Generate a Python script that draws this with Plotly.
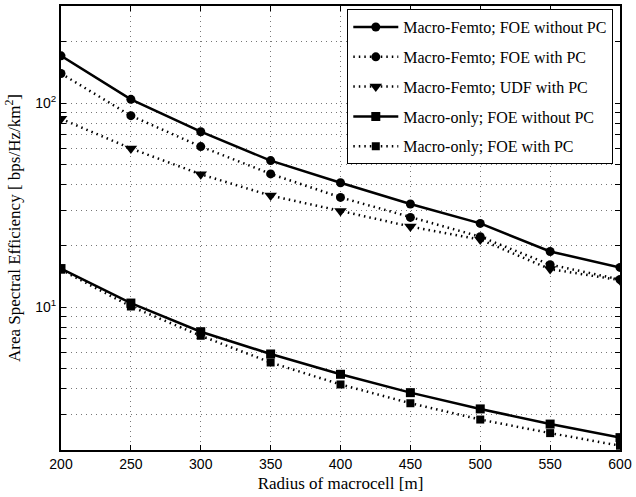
import plotly.graph_objects as go

radius = [200, 250, 300, 350, 400, 450, 500, 550, 600]
mf_foe_nopc = [171, 104.6, 72.6, 52.4, 40.8, 32.1, 25.8, 18.8, 15.7]
mf_foe_pc = [140, 87, 61.4, 45.1, 34.6, 27.6, 22.2, 16.2, 13.7]
mf_udf_pc = [84, 60.1, 44.9, 35.3, 29.7, 24.9, 21.5, 15.4, 13.6]
mo_foe_nopc = [15.5, 10.5, 7.6, 5.91, 4.70, 3.82, 3.18, 2.68, 2.30]
mo_foe_pc = [15.3, 10.1, 7.26, 5.37, 4.19, 3.39, 2.82, 2.42, 2.10]

names = ["Macro-Femto; FOE without PC", "Macro-Femto; FOE with PC",
         "Macro-Femto; UDF with PC", "Macro-only; FOE without PC",
         "Macro-only; FOE with PC"]
series = [mf_foe_nopc, mf_foe_pc, mf_udf_pc, mo_foe_nopc, mo_foe_pc]
dashes = ["solid", "1.5px,4px", "1.5px,4px", "solid", "1.5px,4px"]
symbols = ["circle", "circle", "triangle-down", "square", "square"]
msizes = [9, 9, 11, 9, 8]

fig = go.Figure()
for i, (nm, ys) in enumerate(zip(names, series)):
    fig.add_trace(go.Scatter(
        x=radius, y=ys, name=nm, mode="lines+markers",
        legendgroup=str(i),
        line=dict(color="black", width=2.5, dash=dashes[i]),
        marker=dict(symbol=symbols[i], size=msizes[i], color="black"),
    ))

grid_vals = [2, 3, 4, 5, 6, 7, 8, 9, 10, 20, 30, 40, 50, 60, 70, 80, 90, 100, 200, 300]
grid_text = ["10<sup>1</sup>" if v == 10 else ("10<sup>2</sup>" if v == 100 else "") for v in grid_vals]

serif = "Liberation Serif, Times New Roman"

fig.update_layout(
    width=636, height=497,
    margin=dict(l=61, r=12, t=4, b=47),
    paper_bgcolor="white", plot_bgcolor="white",
    font=dict(family="Liberation Sans, Arial", size=14, color="black"),
    showlegend=True,
    legend=dict(
        x=0.988, y=0.993, xanchor="right", yanchor="top",
        bgcolor="white", bordercolor="black", borderwidth=1,
        font=dict(family=serif, size=16, color="black"),
        tracegroupgap=6, itemwidth=45,
    ),
    xaxis=dict(
        range=[200, 600], tickvals=radius,
        showgrid=True, gridcolor="#777", griddash="1px,4px", gridwidth=1,
        ticks="inside", ticklen=5, tickcolor="black",
        showline=True, linecolor="black", linewidth=2, mirror="ticks",
        zeroline=False,
        title=dict(text="Radius of macrocell [m]", standoff=6,
                   font=dict(family=serif, size=17)),
    ),
    yaxis=dict(
        type="log", range=[0.30103, 2.4771],
        tickvals=grid_vals, ticktext=grid_text,
        showgrid=True, gridcolor="#777", griddash="1px,4px", gridwidth=1,
        ticks="inside", ticklen=5, tickcolor="black",
        showline=True, linecolor="black", linewidth=2, mirror="ticks",
        zeroline=False,
        title=dict(text="Area Spectral Efficiency [ bps/Hz/km<sup>2</sup>]", standoff=10,
                   font=dict(family=serif, size=17)),
    ),
)

fig.write_html("out.html")
